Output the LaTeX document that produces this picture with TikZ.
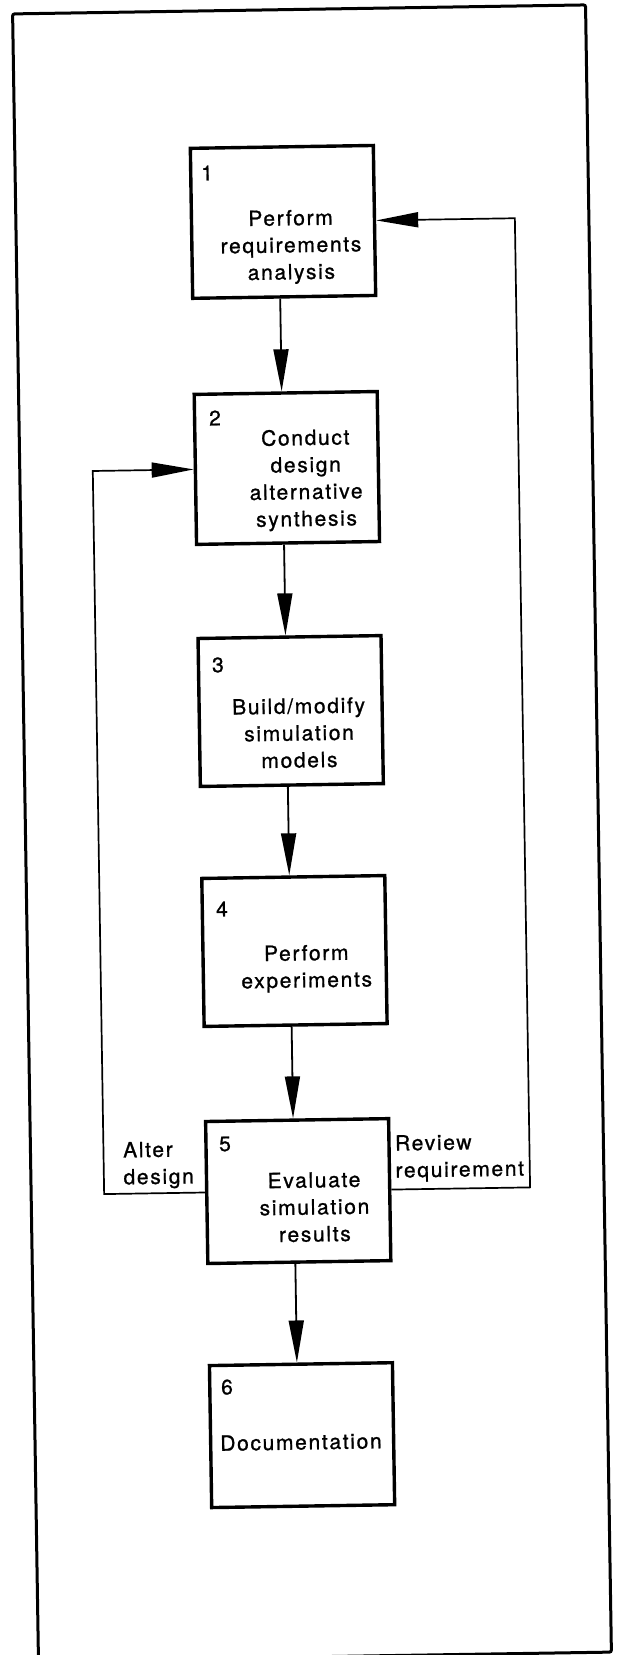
\documentclass[tikz,border=0pt]{standalone}
\usepackage{fontspec}
\setmainfont{TeX Gyre Heros}[LetterSpace=8.0,FakeBold=1.0]
\usetikzlibrary{arrows.meta}
\begin{document}
\begin{tikzpicture}[x=1pt,y=-1pt,
  every node/.style={font=\fontsize{21}{27}\selectfont},
  stepbox/.style={draw,line width=3.4pt,minimum width=183pt,inner sep=0pt,transform shape},
  boxnum/.style={inner sep=0pt,transform shape},
  boxtext/.style={inner sep=0pt,align=center,transform shape},
  sidetext/.style={inner sep=0pt,align=left,anchor=west,transform shape},
  flow/.style={line width=1.8pt,-{Triangle[length=42pt,width=15pt]}},
  feedback/.style={line width=1.7pt,line join=miter,-{Triangle[length=42pt,width=15pt]}}]

\fill[white] (0,0) rectangle (618,1655);
\useasboundingbox (0,0) rectangle (618,1655);

\begin{scope}[rotate around={0.9:(312,833)}]
  % outer frame
  \draw[line width=3pt,rounded corners=2pt] (25.5,9.3) rectangle (598.5,1656.7);

  % process steps
  \node[stepbox,minimum height=150pt] (b1) at (292.6,221.5) {};
  \node[stepbox,minimum height=150pt] (b2) at (292.6,467.6) {};
  \node[stepbox,minimum height=148pt] (b3) at (292.6,710.7) {};
  \node[stepbox,minimum height=148pt] (b4) at (292.6,950.7) {};
  \node[stepbox,minimum height=142pt] (b5) at (292.6,1190.8) {};
  \node[stepbox,minimum height=142pt] (b6) at (292.6,1434.9) {};

  % step numbers
  \node[boxnum] (n1) at (217.4,171.4) {1};
  \node[boxnum] (n2) at (221.5,416.5) {2};
  \node[boxnum] (n3) at (220.6,663.5) {3};
  \node[boxnum] (n4) at (220.8,907.6) {4};
  \node[boxnum] (n5) at (220.1,1142.6) {5};
  \node[boxnum] (n6) at (218.3,1385.7) {6};

  % step titles
  \node[boxtext] (t1) at (300.2,246.7) {Perform\\requirements\\analysis};
  \node[boxtext] (t2) at (311.5,480) {Conduct\\design\\alternative\\synthesis};
  \node[boxtext] (t3) at (300.6,732.8) {Build/modify\\simulation\\models};
  \node[boxtext] (t4) at (304.4,968.4) {Perform\\experiments};
  \node[boxtext] (t5) at (308.6,1207) {Evaluate\\simulation\\results};
  \node[boxtext] (t6) at (291.4,1441.8) {Documentation};

  % loop labels
  \node[sidetext] (alter) at (118,1162.6) {Alter\\design};
  \node[sidetext] (review) at (390,1160) {Review\\requirement};

  % main flow
  \draw[flow] ([xshift=-4pt]b1.south) -- ([xshift=-4pt]b2.north);
  \draw[flow] ([xshift=-4pt]b2.south) -- ([xshift=-4pt]b3.north);
  \draw[flow] ([xshift=-4pt]b3.south) -- ([xshift=-4pt]b4.north);
  \draw[flow] ([xshift=-4pt]b4.south) -- ([xshift=-4pt]b5.north);
  \draw[flow] ([xshift=-4pt]b5.south) -- ([xshift=-4pt]b6.north);

  % feedback loops
  \coordinate (l5) at (98.5,1190.8);
  \coordinate (l2) at (98.5,467.6);
  \coordinate (r5) at (524.5,1190.8);
  \coordinate (r1) at (524.5,221.5);
  \draw[feedback] (b5.west) -- (l5) -- (l2) -- (b2.west);
  \draw[feedback] (b5.east) -- (r5) -- (r1) -- (b1.east);
\end{scope}
\end{tikzpicture}
\end{document}
